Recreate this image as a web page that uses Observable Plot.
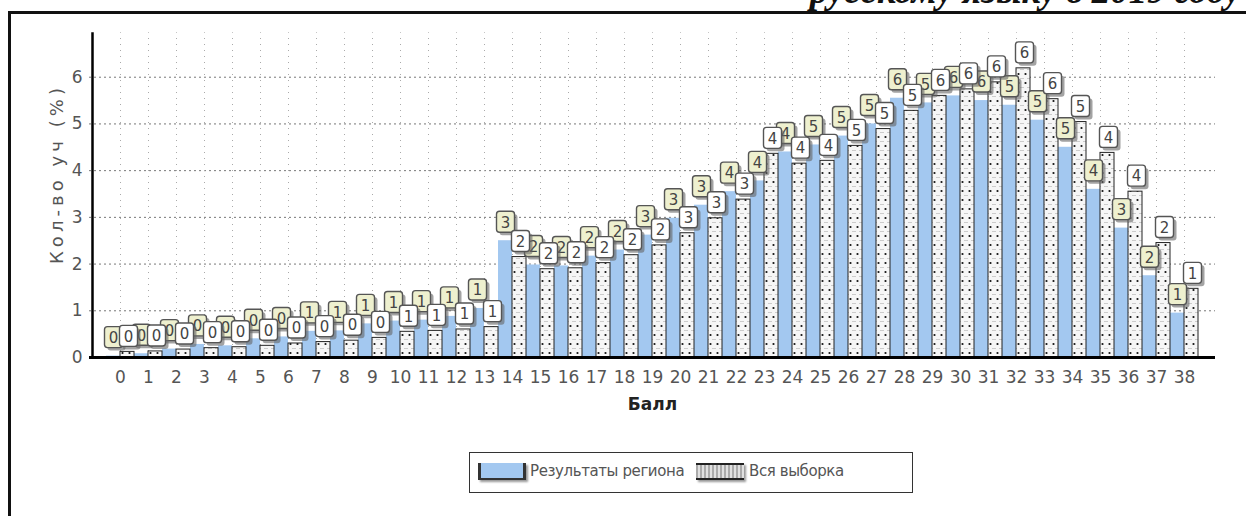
<!DOCTYPE html>
<html><head><meta charset="utf-8">
<script src="https://cdn.jsdelivr.net/npm/d3@7"></script>
<script src="https://cdn.jsdelivr.net/npm/@observablehq/plot@0.6"></script>
<style>
body{margin:0;background:#fff;}
#wrap{position:relative;width:1246px;height:516px;overflow:hidden;background:#fff;}
#frame{position:absolute;left:8px;top:11px;width:1300px;height:600px;border-left:3px solid #111;border-top:3px solid #111;}
#toptext{position:absolute;right:5px;top:-27px;font:italic bold 37px "Liberation Serif",serif;line-height:36px;color:#111;white-space:nowrap;}
#chart{position:absolute;left:0;top:0;}
#legend{position:absolute;left:469px;top:452px;width:444px;height:41px;border:1px solid #333;box-sizing:border-box;font:15px "DejaVu Sans",sans-serif;letter-spacing:-0.4px;color:#555;}
.sw{position:absolute;top:10px;height:17px;box-sizing:border-box;}
.lt{position:absolute;top:9px;line-height:19px;}
</style></head>
<body><div id="wrap"><div id="frame"></div><div id="toptext">русскому языку в 2019 году</div><div id="chart"></div>
<div id="legend">
<div class="sw" style="left:8px;width:48px;background:#a3c8f0;border-left:3px solid #333;border-right:3px solid #333;border-bottom:2px solid #333;box-shadow:2px 2px 2px #999;"></div>
<div class="lt" style="left:60px;">Результаты региона</div>
<div class="sw" style="left:226px;width:48px;background:repeating-linear-gradient(90deg,#aaa 0 2px,#e0e0e0 2px 4px);border-top:2px solid #222;border-bottom:2px solid #222;box-shadow:2px 2px 2px #999;"></div>
<div class="lt" style="left:279px;">Вся выборка</div>
</div></div>
<script>
const scores = [0,1,2,3,4,5,6,7,8,9,10,11,12,13,14,15,16,17,18,19,20,21,22,23,24,25,26,27,28,29,30,31,32,33,34,35,36,37,38];
const regionValues = [0.03,0.08,0.18,0.28,0.25,0.4,0.44,0.56,0.57,0.72,0.78,0.8,0.88,1.05,2.5,1.98,1.96,2.17,2.3,2.62,2.98,3.26,3.55,3.78,4.4,4.55,4.74,5.0,5.55,5.45,5.6,5.5,5.4,5.08,4.5,3.6,2.77,1.75,0.95];
const sampleValues = [0.12,0.13,0.17,0.2,0.22,0.25,0.3,0.33,0.36,0.42,0.55,0.57,0.6,0.65,2.15,1.89,1.91,2.02,2.19,2.4,2.66,2.98,3.38,4.36,4.15,4.21,4.53,4.89,5.28,5.6,5.74,5.89,6.19,5.53,5.04,4.38,3.55,2.45,1.47];
const yTicks = [0,1,2,3,4,5,6];
const seriesNames = ["Результаты региона","Вся выборка"];
const xTitle = "Балл";
const yTitle = "Кол-во уч (%)";

const rows = scores.map((s,i)=>({score:s, region:regionValues[i], sample:sampleValues[i]}));
const font = '"DejaVu Sans",sans-serif';

const box = {draw(ctx){const w=9,h=10.5,r=3;
  ctx.moveTo(-w+r,-h);ctx.lineTo(w-r,-h);ctx.arcTo(w,-h,w,-h+r,r);
  ctx.lineTo(w,h-r);ctx.arcTo(w,h,w-r,h,r);ctx.lineTo(-w+r,h);ctx.arcTo(-w,h,-w,h-r,r);
  ctx.lineTo(-w,-h+r);ctx.arcTo(-w,-h,-w+r,-h,r);ctx.closePath();}};

function labels(key, fill, dx, dy){
  return [
    Plot.dot(rows,{x:"score",y:key,symbol:box,r:5,fill:"#666",fillOpacity:0.6,stroke:"none",dx:dx+3,dy:dy+3}),
    Plot.dot(rows,{x:"score",y:key,symbol:box,r:5,fill:fill,stroke:"#555",strokeWidth:1.4,dx:dx,dy:dy}),
    Plot.text(rows,{x:"score",y:key,text:d=>Math.round(d[key]),dx:dx,dy:dy+1,fontSize:15,fill:"#444"})
  ];
}

const chart = Plot.plot({
  width:1246, height:420,
  marginLeft:89, marginRight:31, marginTop:30, marginBottom:63,
  style:{background:"transparent", fontFamily:font},
  x:{type:"band", domain:scores, paddingInner:0, paddingOuter:0.5, axis:null},
  y:{domain:[0,7], axis:null},
  marks:[
    Plot.ruleY(yTicks.slice(1),{stroke:"#777",strokeDasharray:"2,3"}),
    Plot.ruleX(scores,{x:d=>d,y1:0,y2:6.95,stroke:"#aaa",strokeDasharray:"1,5"}),
    Plot.barY(rows,{x:"score",y:"region",fill:"#a3c8f0",insetRight:14}),
    Plot.barY(rows,{x:"score",y:"sample",fill:"url(#dots)",stroke:"#222",strokeWidth:1,insetLeft:14}),
    ...labels("region","#eef0cf",-7,-19),
    ...labels("sample","#fff",8,-16),
    Plot.ruleY([0],{stroke:"#000",strokeWidth:3}),
    Plot.ruleX([0],{x:d=>d,y1:0,y2:6.95,dx:-28,stroke:"#000",strokeWidth:2.5}),
    Plot.text(scores,{x:d=>d,text:d=>String(d),frameAnchor:"bottom",dy:25,fontSize:17,fill:"#555"}),
    Plot.text(yTicks,{y:d=>d,text:d=>String(d),frameAnchor:"left",dx:-7,textAnchor:"end",fontSize:17,fill:"#555"}),
    Plot.text([xTitle],{frameAnchor:"bottom",dy:52,fontSize:17,fontWeight:"bold",fill:"#222"}),
    Plot.text([yTitle],{frameAnchor:"left",dx:-32,dy:70,rotate:-90,textAnchor:"start",fontSize:18,fill:"#555",className:"ytitle"})
  ]
});
d3.select(chart).selectAll(".ytitle text").attr("textLength",176).attr("lengthAdjust","spacing");
const defs = d3.select(chart).insert("defs",":first-child");
const p = defs.append("pattern").attr("id","dots").attr("patternUnits","userSpaceOnUse").attr("width",7).attr("height",9);
p.append("rect").attr("width",7).attr("height",9).attr("fill","#f6f6f6");
p.append("circle").attr("cx",3.5).attr("cy",2).attr("r",1.1).attr("fill","#111");
p.append("circle").attr("cx",1).attr("cy",6.5).attr("r",0.6).attr("fill","#999");
p.append("circle").attr("cx",6).attr("cy",6.5).attr("r",0.6).attr("fill","#999");
document.getElementById("chart").appendChild(chart);
</script></body></html>
